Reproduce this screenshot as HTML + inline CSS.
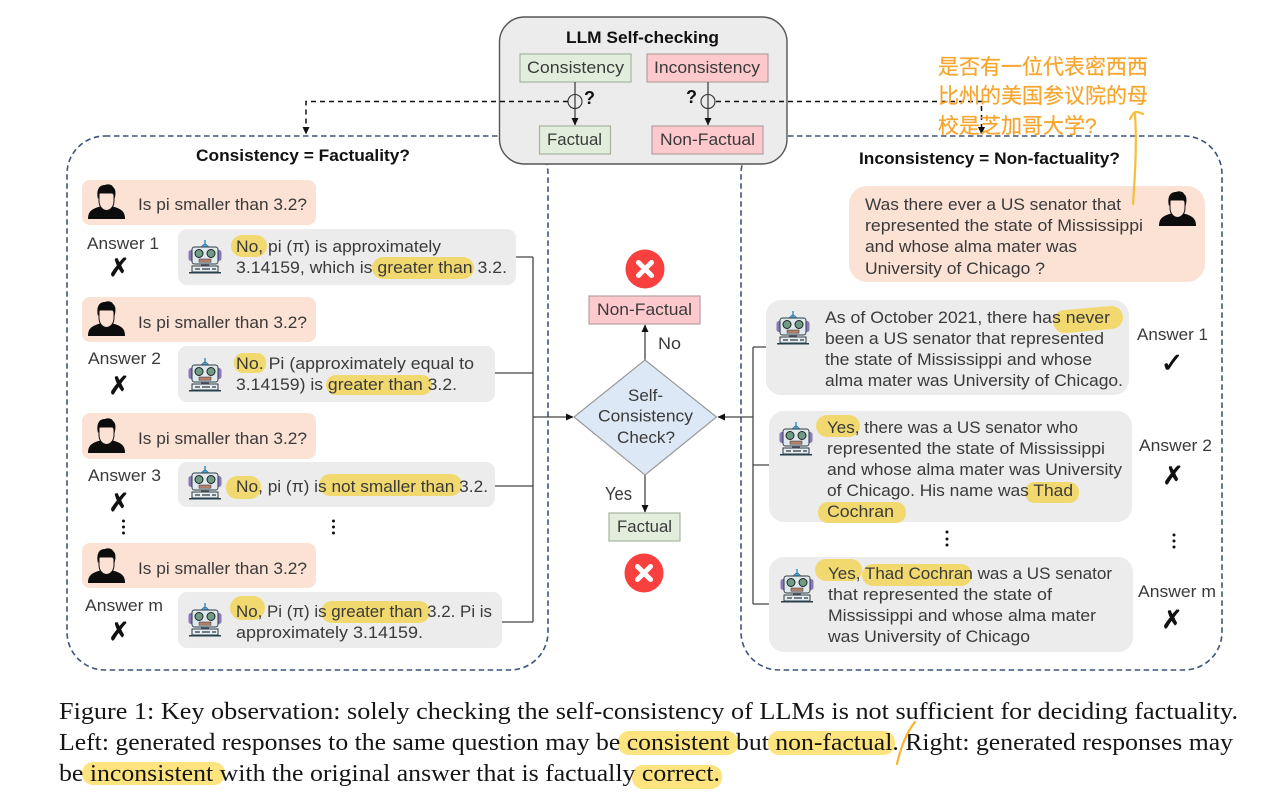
<!DOCTYPE html>
<html><head><meta charset="utf-8"><style>
html,body{margin:0;padding:0;background:#fff}
svg{display:block;filter:blur(0.35px)}
text{font-family:"Liberation Sans","Noto Sans CJK SC",sans-serif}
.t{font-size:17px;fill:#3a3a3a}
.b{font-size:16.5px;font-weight:bold;fill:#111}
.c{font-family:"Liberation Serif",serif;font-size:24px;fill:#151515}
.z{font-size:21px;fill:#f6a62f;stroke:#f6a62f;stroke-width:.25;font-family:"Liberation Sans","Noto Sans CJK SC",sans-serif}
.x{font-family:"DejaVu Sans",sans-serif;font-size:25px;font-weight:bold;fill:#111;stroke:#111;stroke-width:.7;text-anchor:middle}
.h{fill:#f2d96f}
.hc{fill:#fde47f}
.l{stroke:#444;stroke-width:1.3;fill:none}
.d{stroke:#111;stroke-width:1.5;fill:none;stroke-dasharray:5 4}
.n{stroke:#3f5478;stroke-width:1.6;fill:none;stroke-dasharray:5.5 3.5}
.ub{fill:#fbe2d5}.gb{fill:#ececec}
.g{fill:#e2eedb;stroke:#a8b4a2;stroke-width:1.2}
.r{fill:#fdc9cd;stroke:#b3a0a2;stroke-width:1.2}
</style></head><body>
<svg width="1280" height="810" viewBox="0 0 1280 810" xmlns="http://www.w3.org/2000/svg">
<defs>
<symbol id="user" viewBox="0 0 37 35" width="37" height="35">
<path d="M0 35 C0 27 4 25 12 22.5 L14 21 L23 21 L25 22.5 C33 25 37 27 37 35 Z" fill="#0c0c0c"/>
<path d="M11 9 L26 9 L26 17 C26 23 22 26.5 18.5 26.5 C15 26.5 11 23 11 17 Z" fill="#fbe2d5" stroke="#111" stroke-width="1"/>
<path d="M10 15 C8 6 11 1 17 1 C19 0 24 0 25 3 C28 5 28 10 26.5 15 C26 11 25 9 22 8.5 C18 9.5 14 8 12 9 C11 11 11 13 10 15 Z" fill="#0c0c0c"/>
</symbol>
<symbol id="robot" viewBox="0 0 34 34" width="34" height="34">
<path d="M17 0 L17 4" stroke="#3b8fc4" stroke-width="1.5"/>
<path d="M13 7 Q17 1 21 7 Z" fill="#4aa3d8" stroke="#274a5e" stroke-width=".5"/>
<rect x="0.500" y="10" width="5" height="11" rx="2.500" fill="#8a78b8"/>
<rect x="28.500" y="10" width="5" height="11" rx="2.500" fill="#8a78b8"/>
<rect x="4" y="7" width="26" height="17" rx="2.500" fill="#dfe9ee" stroke="#2d3b42" stroke-width="1"/>
<circle cx="11" cy="13.500" r="4" fill="#6f9c86" stroke="#222" stroke-width="1"/>
<circle cx="23" cy="13.500" r="4" fill="#6f9c86" stroke="#222" stroke-width="1"/>
<rect x="11" y="19" width="12" height="3.200" fill="#b4806a" stroke="#333" stroke-width=".5"/>
<rect x="13" y="24" width="8" height="2.500" fill="#556"/>
<rect x="4" y="26" width="26" height="6" fill="#e6eef2" stroke="#2d3b42" stroke-width="1"/>
<path d="M7 29 h5 M14 29 h8 M24 29 h4" stroke="#2d3b42" stroke-width="1.200"/>
<rect x="1" y="32" width="32" height="1.500" fill="#26404d"/>
</symbol>
<symbol id="xc" viewBox="0 0 39 39" width="39" height="39">
<circle cx="19.500" cy="19.500" r="19.500" fill="#f8403f"/>
<path d="M13 13 L26 26 M26 13 L13 26" stroke="#fff" stroke-width="5" stroke-linecap="round"/>
</symbol>
<marker id="a" markerWidth="8" markerHeight="8" refX="7" refY="3.500" orient="auto" markerUnits="userSpaceOnUse"><path d="M0 0 L7.500 3.500 L0 7 Z" fill="#111"/></marker>
</defs>

<!-- dashed containers -->
<rect x="67" y="136" width="481" height="534" rx="38" class="n"/>
<rect x="741" y="136" width="481" height="534" rx="38" class="n"/>

<!-- dashed black links -->
<path d="M568 101.500 H306 V134" class="d" marker-end="url(#a)"/>
<path d="M716 101.500 H981.500 V134" class="d" marker-end="url(#a)"/>

<!-- LLM box -->
<rect x="499.500" y="17" width="287.500" height="147" rx="25" fill="#ececec" stroke="#555" stroke-width="1.400"/>
<text x="566" y="43" class="b" textLength="153" lengthAdjust="spacingAndGlyphs">LLM Self-checking</text>
<rect x="520" y="54" width="111" height="28" class="g"/>
<rect x="647" y="54" width="121" height="28" class="r"/>
<rect x="539.500" y="126" width="71" height="28" class="g"/>
<rect x="652" y="126" width="111" height="28" class="r"/>
<text x="527" y="73" class="t" textLength="97" lengthAdjust="spacingAndGlyphs">Consistency</text>
<text x="654" y="73" class="t" textLength="106" lengthAdjust="spacingAndGlyphs">Inconsistency</text>
<text x="547" y="145" class="t" textLength="55" lengthAdjust="spacingAndGlyphs">Factual</text>
<text x="660" y="145" class="t" textLength="95" lengthAdjust="spacingAndGlyphs">Non-Factual</text>
<path d="M575 82 V125" class="l" marker-end="url(#a)"/>
<path d="M708 82 V125" class="l" marker-end="url(#a)"/>
<circle cx="575" cy="101.500" r="7" fill="none" stroke="#333" stroke-width="1.100"/>
<circle cx="708" cy="101.500" r="7" fill="none" stroke="#333" stroke-width="1.100"/>
<path d="M500 101.500 H568 M716 101.500 H786" class="d"/>
<text x="584" y="104" class="b" style="font-size:18px">?</text>
<text x="686" y="103" class="b" style="font-size:18px">?</text>

<!-- titles -->
<text x="196" y="161" class="b" textLength="214" lengthAdjust="spacingAndGlyphs">Consistency = Factuality?</text>
<text x="859" y="164" class="b" textLength="261" lengthAdjust="spacingAndGlyphs">Inconsistency = Non-factuality?</text>

<!-- left connectors -->
<path d="M516 257 H533 M495 373 H533 M495 486 H533 M502 622 H533 M533 257 V622" class="l"/>
<path d="M533 417 H573" class="l" marker-end="url(#a)"/>
<!-- right connectors -->
<path d="M767 347 H753 M769 465 H753 M769 604 H753 M753 347 V604" class="l"/>
<path d="M753 417 H718" class="l" marker-end="url(#a)"/>

<!-- left bubbles -->
<rect x="82" y="180" width="234" height="45" rx="8" class="ub"/>
<rect x="82" y="297" width="234" height="45" rx="8" class="ub"/>
<rect x="82" y="413" width="234" height="46" rx="8" class="ub"/>
<rect x="82" y="543" width="234" height="45" rx="8" class="ub"/>
<rect x="178" y="229" width="338" height="56" rx="9" class="gb"/>
<rect x="178" y="346" width="317" height="56" rx="9" class="gb"/>
<rect x="178" y="462" width="317" height="45" rx="9" class="gb"/>
<rect x="178" y="592" width="324" height="56" rx="9" class="gb"/>

<use href="#user" x="88" y="184"/>
<use href="#user" x="88" y="301"/>
<use href="#user" x="88" y="418"/>
<use href="#user" x="88" y="548"/>
<use href="#robot" x="188" y="240"/>
<use href="#robot" x="188" y="358"/>
<use href="#robot" x="188" y="466"/>
<use href="#robot" x="188" y="603"/>

<g>
<text x="138" y="210" class="t" textLength="169" lengthAdjust="spacingAndGlyphs">Is pi smaller than 3.2?</text>
<text x="138" y="328" class="t" textLength="169" lengthAdjust="spacingAndGlyphs">Is pi smaller than 3.2?</text>
<text x="138" y="444" class="t" textLength="169" lengthAdjust="spacingAndGlyphs">Is pi smaller than 3.2?</text>
<text x="138" y="574" class="t" textLength="169" lengthAdjust="spacingAndGlyphs">Is pi smaller than 3.2?</text>
</g>

<!-- left highlights -->
<rect x="231" y="235" width="36" height="22" rx="11" class="h"/>
<rect x="372" y="257" width="102" height="22" rx="11" class="h"/>
<rect x="234" y="353" width="32" height="20" rx="9" class="h"/>
<rect x="326" y="375" width="106" height="20" rx="10" class="h"/>
<rect x="226" y="476" width="35" height="23" rx="11" class="h"/>
<rect x="319" y="474" width="143" height="22" rx="11" class="h"/>
<rect x="230" y="596" width="35" height="24" rx="12" class="h"/>
<rect x="321" y="601" width="109" height="22" rx="11" class="h"/>

<text x="236" y="252" class="t" textLength="205" lengthAdjust="spacingAndGlyphs">No, pi (π) is approximately</text>
<text x="236" y="273" class="t" textLength="271" lengthAdjust="spacingAndGlyphs">3.14159, which is greater than 3.2.</text>
<text x="236" y="369" class="t" textLength="238" lengthAdjust="spacingAndGlyphs">No. Pi (approximately equal to</text>
<text x="236" y="390" class="t" textLength="221" lengthAdjust="spacingAndGlyphs">3.14159) is greater than 3.2.</text>
<text x="236" y="492" class="t" textLength="252" lengthAdjust="spacingAndGlyphs">No, pi (π) is not smaller than 3.2.</text>
<text x="236" y="617" class="t" textLength="256" lengthAdjust="spacingAndGlyphs">No, Pi (π) is greater than 3.2. Pi is</text>
<text x="236" y="638" class="t" textLength="187" lengthAdjust="spacingAndGlyphs">approximately 3.14159.</text>

<text x="87" y="249" class="t" textLength="72" lengthAdjust="spacingAndGlyphs">Answer 1</text>
<text x="88" y="364" class="t" textLength="73" lengthAdjust="spacingAndGlyphs">Answer 2</text>
<text x="88" y="481" class="t" textLength="73" lengthAdjust="spacingAndGlyphs">Answer 3</text>
<text x="85" y="611" class="t" textLength="78" lengthAdjust="spacingAndGlyphs">Answer m</text>
<text x="119" y="276" class="x">✗</text>
<text x="119" y="394" class="x">✗</text>
<text x="119" y="511" class="x">✗</text>
<text x="119" y="640" class="x">✗</text>
<g fill="#111">
<circle cx="123.500" cy="521" r="1.500"/><circle cx="123.500" cy="527" r="1.500"/><circle cx="123.500" cy="533" r="1.500"/>
<circle cx="333.500" cy="521" r="1.500"/><circle cx="333.500" cy="527" r="1.500"/><circle cx="333.500" cy="533" r="1.500"/>
<circle cx="947" cy="532" r="1.500"/><circle cx="947" cy="539" r="1.500"/><circle cx="947" cy="545" r="1.500"/>
<circle cx="1174" cy="535" r="1.500"/><circle cx="1174" cy="541" r="1.500"/><circle cx="1174" cy="547" r="1.500"/>
</g>

<!-- centre -->
<use href="#xc" x="625.500" y="249.500"/>
<use href="#xc" x="624.500" y="553.500"/>
<rect x="589" y="296" width="111" height="28" class="r"/>
<rect x="609" y="513" width="71" height="28" class="g"/>
<text x="597" y="315" class="t" textLength="95" lengthAdjust="spacingAndGlyphs">Non-Factual</text>
<text x="617" y="532" class="t" textLength="55" lengthAdjust="spacingAndGlyphs">Factual</text>
<path d="M645 360 V325" class="l" marker-end="url(#a)"/>
<path d="M645 475 V512" class="l" marker-end="url(#a)"/>
<polygon points="645,360 716.500,417 645,475 574,417" fill="#dce8f5" stroke="#999" stroke-width="1.200"/>
<text x="628" y="401" class="t" textLength="35" lengthAdjust="spacingAndGlyphs">Self-</text>
<text x="598" y="421.500" class="t" textLength="95" lengthAdjust="spacingAndGlyphs">Consistency</text>
<text x="617" y="443" class="t" textLength="58" lengthAdjust="spacingAndGlyphs">Check?</text>
<text x="658" y="349" class="t" textLength="23" lengthAdjust="spacingAndGlyphs">No</text>
<text x="605" y="500" class="t" style="font-size:18px" textLength="27" lengthAdjust="spacingAndGlyphs">Yes</text>

<!-- right bubbles -->
<rect x="849" y="186" width="356" height="96" rx="18" class="ub"/>
<use href="#user" x="1159" y="191"/>
<text x="865" y="210" class="t" textLength="256" lengthAdjust="spacingAndGlyphs">Was there ever a US senator that</text>
<text x="865" y="231" class="t" textLength="278" lengthAdjust="spacingAndGlyphs">represented the state of Mississippi</text>
<text x="865" y="252" class="t" textLength="212" lengthAdjust="spacingAndGlyphs">and whose alma mater was</text>
<text x="865" y="274" class="t" textLength="180" lengthAdjust="spacingAndGlyphs">University of Chicago ?</text>

<rect x="766" y="300" width="363" height="95" rx="15" class="gb"/>
<rect x="769" y="411" width="363" height="111" rx="15" class="gb"/>
<rect x="769" y="557" width="364" height="95" rx="15" class="gb"/>
<use href="#robot" x="776" y="311"/>
<use href="#robot" x="779" y="422"/>
<use href="#robot" x="780" y="569"/>

<!-- right highlights -->
<rect x="1053" y="308" width="70" height="23" rx="11.500" class="h" transform="rotate(-5 1088 319)"/>
<rect x="816" y="415" width="44" height="22" rx="11" class="h"/>
<rect x="1025" y="482" width="54" height="21" rx="10" class="h"/>
<rect x="818" y="502" width="88" height="21" rx="10" class="h"/>
<rect x="815" y="559" width="47" height="22" rx="11" class="h"/>
<rect x="862" y="564" width="110" height="22" rx="11" class="h"/>

<text x="825" y="323" class="t" textLength="285" lengthAdjust="spacingAndGlyphs">As of October 2021, there has never</text>
<text x="825" y="344" class="t" textLength="279" lengthAdjust="spacingAndGlyphs">been a US senator that represented</text>
<text x="825" y="365" class="t" textLength="267" lengthAdjust="spacingAndGlyphs">the state of Mississippi and whose</text>
<text x="825" y="386" class="t" textLength="298" lengthAdjust="spacingAndGlyphs">alma mater was University of Chicago.</text>
<text x="827" y="433" class="t" textLength="251" lengthAdjust="spacingAndGlyphs">Yes, there was a US senator who</text>
<text x="827" y="454" class="t" textLength="278" lengthAdjust="spacingAndGlyphs">represented the state of Mississippi</text>
<text x="827" y="475" class="t" textLength="295" lengthAdjust="spacingAndGlyphs">and whose alma mater was University</text>
<text x="827" y="496" class="t" textLength="246" lengthAdjust="spacingAndGlyphs">of Chicago. His name was Thad</text>
<text x="827" y="517" class="t" textLength="67" lengthAdjust="spacingAndGlyphs">Cochran</text>
<text x="828" y="579" class="t" textLength="284" lengthAdjust="spacingAndGlyphs">Yes, Thad Cochran was a US senator</text>
<text x="828" y="600" class="t" textLength="224" lengthAdjust="spacingAndGlyphs">that represented the state of</text>
<text x="828" y="621" class="t" textLength="268" lengthAdjust="spacingAndGlyphs">Mississippi and whose alma mater</text>
<text x="828" y="642" class="t" textLength="202" lengthAdjust="spacingAndGlyphs">was University of Chicago</text>

<text x="1137" y="340" class="t" textLength="71" lengthAdjust="spacingAndGlyphs">Answer 1</text>
<text x="1139" y="451" class="t" textLength="73" lengthAdjust="spacingAndGlyphs">Answer 2</text>
<text x="1138" y="597" class="t" textLength="78" lengthAdjust="spacingAndGlyphs">Answer m</text>
<text x="1172" y="372" class="x" style="font-size:27px">✓</text>
<text x="1173" y="484" class="x">✗</text>
<text x="1172" y="628" class="x">✗</text>

<!-- caption -->
<rect x="618" y="731" width="120" height="24" rx="11" class="hc"/>
<rect x="768" y="731" width="127" height="24" rx="11" class="hc"/>
<rect x="82" y="762" width="143" height="23" rx="11" class="hc"/>
<rect x="632" y="765" width="90" height="24" rx="11" class="hc"/>
<text x="59" y="719" class="c" textLength="1179" lengthAdjust="spacingAndGlyphs">Figure 1: Key observation: solely checking the self-consistency of LLMs is not sufficient for deciding factuality.</text>
<text x="59" y="750" class="c" textLength="1174" lengthAdjust="spacingAndGlyphs">Left: generated responses to the same question may be consistent but non-factual. Right: generated responses may</text>
<text x="59" y="781" class="c" textLength="661" lengthAdjust="spacingAndGlyphs">be inconsistent with the original answer that is factually correct.</text>
<path d="M915 722 C906 733 900 750 897 764" fill="none" stroke="#f8b52e" stroke-width="2.200" stroke-linecap="round"/>

<!-- annotation -->
<text x="938" y="74" class="z">是否有一位代表密西西</text>
<text x="938" y="103" class="z">比州的美国参议院的母</text>
<text x="938" y="133" class="z">校是芝加哥大学?</text>
<path d="M1133 204 C1135 175 1137 145 1135 114 M1130 119 C1132 115 1134 112 1136 112 C1138 112 1141 113 1143 114" fill="none" stroke="#f8be3a" stroke-width="2.200" stroke-linecap="round"/>
</svg>
</body></html>
